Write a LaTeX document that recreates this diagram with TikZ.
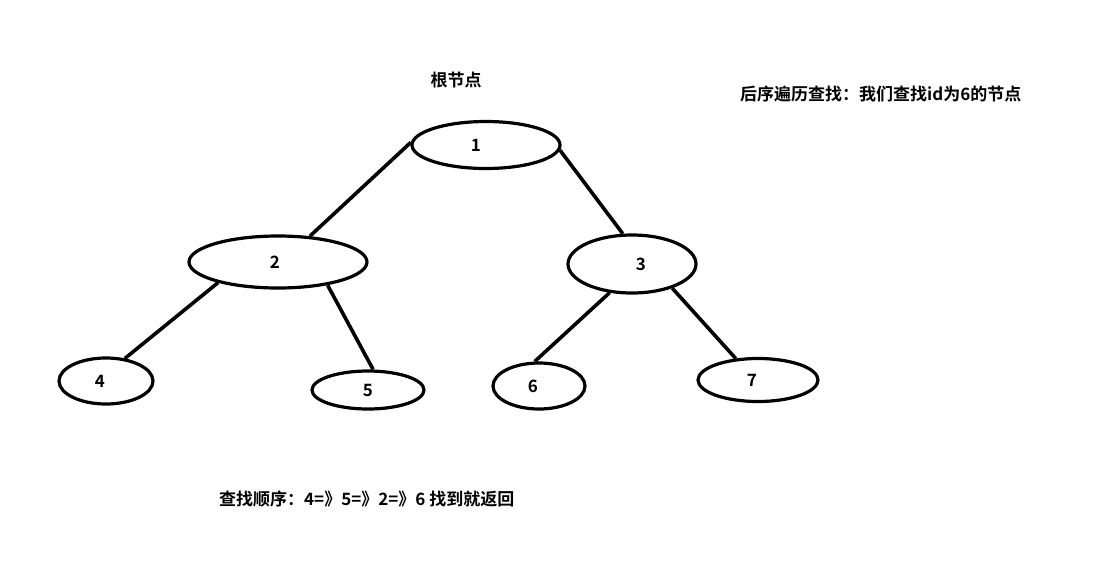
\documentclass[tikz,border=0pt]{standalone}
\usepackage{fontspec}
\setmainfont{Noto Sans CJK SC}
\newfontfamily\cjkb{Noto Sans CJK SC Bold}
\usetikzlibrary{shapes.geometric}
\newcommand\shiftnum[2]{\makebox[0pt]{\hspace*{#1}#2}}
\begin{document}
\begin{tikzpicture}[x=1pt,y=-1pt,
  tnode/.style={draw, ellipse, line width=3.2pt, inner sep=0pt, font=\cjkb\fontsize{17}{17}\selectfont},
  edge/.style={line width=3.6pt},
  lbl/.style={font=\cjkb\fontsize{17}{17}\selectfont, inner sep=0pt}]
\useasboundingbox[fill=white] (0,0) rectangle (1103,571);
\node[tnode, minimum width=148pt, minimum height=47pt] (n1) at (486,145) {\shiftnum{-20pt}{1}};
\node[tnode, minimum width=178pt, minimum height=52pt] (n2) at (278,262) {\shiftnum{-6pt}{2}};
\node[tnode, minimum width=128pt, minimum height=58pt] (n3) at (632,264) {\shiftnum{18pt}{3}};
\node[tnode, minimum width=94pt, minimum height=46pt] (n4) at (106,381) {\shiftnum{-12pt}{4}};
\node[tnode, minimum width=112pt, minimum height=38pt] (n5) at (368,390) {5};
\node[tnode, minimum width=92pt, minimum height=46pt] (n6) at (539,386) {\shiftnum{-12pt}{6}};
\node[tnode, minimum width=120pt, minimum height=43pt] (n7) at (758,380) {\shiftnum{-12pt}{7}};
\draw[edge] (n1.178) -- (n2.39);
\draw[edge] (n1.-4) -- (n3.107);
\draw[edge] (n2.-161) -- (n4.50);
\draw[edge] (n2.-25) -- (n5.76);
\draw[edge] (n3.-128) -- (n6.100);
\draw[edge] (n3.-31) -- (n7.136);
\node[lbl] (root) at (456,80) {根节点};
\node[lbl, anchor=west] (title) at (740,94) {后序遍历查找：我们查找id为6的节点};
\node[lbl, anchor=west] (order) at (219,499) {查找顺序：4=》5=》2=》6 找到就返回};
\end{tikzpicture}
\end{document}
